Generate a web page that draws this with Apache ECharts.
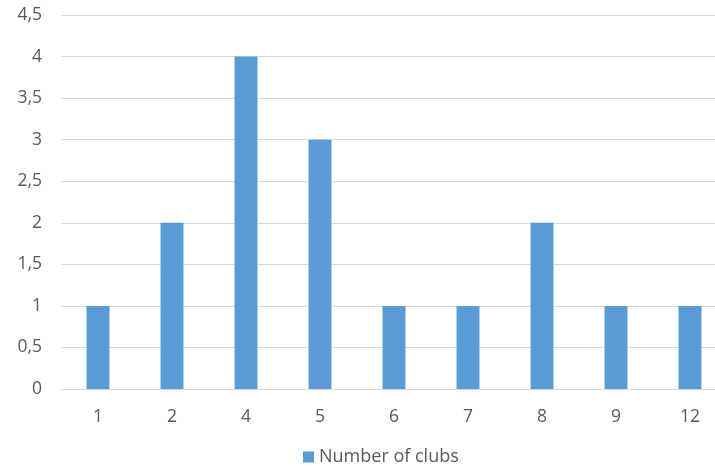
<!DOCTYPE html>
<html>
<head>
<meta charset="utf-8">
<script src="https://cdn.jsdelivr.net/npm/echarts@6/dist/echarts.min.js"></script>
<style>
  html, body { margin: 0; padding: 0; background: #fff; overflow: hidden; width: 715px; height: 468px; }
  #chart { width: 740px; height: 468px; }
</style>
</head>
<body>
<div id="chart"></div>
<script>
// Club counts per category
const categories = ['1', '2', '4', '5', '6', '7', '8', '9', '12'];
const clubCounts = [1, 2, 4, 3, 1, 1, 2, 1, 1];
const seriesName = 'Number of clubs';

const font = '"Open Sans", "Segoe UI", sans-serif';
// The plot runs a little past the right edge of the visible window
const chart = echarts.init(document.getElementById('chart'));
chart.setOption({
  animation: false,
  backgroundColor: '#ffffff',
  grid: { left: 61, right: 13, top: 15, bottom: 79, containLabel: false },
  legend: {
    data: [seriesName],
    top: 443,
    left: 298,
    itemWidth: 11,
    itemHeight: 11,
    itemGap: 6,
    icon: 'rect',
    textStyle: { fontFamily: font, fontSize: 18, color: '#595959' }
  },
  xAxis: {
    type: 'category',
    data: categories,
    axisLine: { show: true, lineStyle: { color: '#d9d9d9', width: 1 } },
    axisTick: { show: false },
    axisLabel: { fontFamily: font, fontSize: 17.5, color: '#595959', margin: 19 }
  },
  yAxis: {
    type: 'value',
    min: 0,
    max: 4.5,
    interval: 0.5,
    axisLine: { show: false },
    axisTick: { show: false },
    splitLine: { lineStyle: { color: '#d9d9d9', width: 1 } },
    axisLabel: {
      fontFamily: font, fontSize: 17.5, color: '#595959', margin: 19,
      formatter: v => String(v).replace('.', ',')
    }
  },
  series: [{
    name: seriesName,
    type: 'bar',
    data: clubCounts,
    barWidth: 23,
    itemStyle: { color: '#5b9bd5' }
  }]
});
</script>
</body>
</html>
